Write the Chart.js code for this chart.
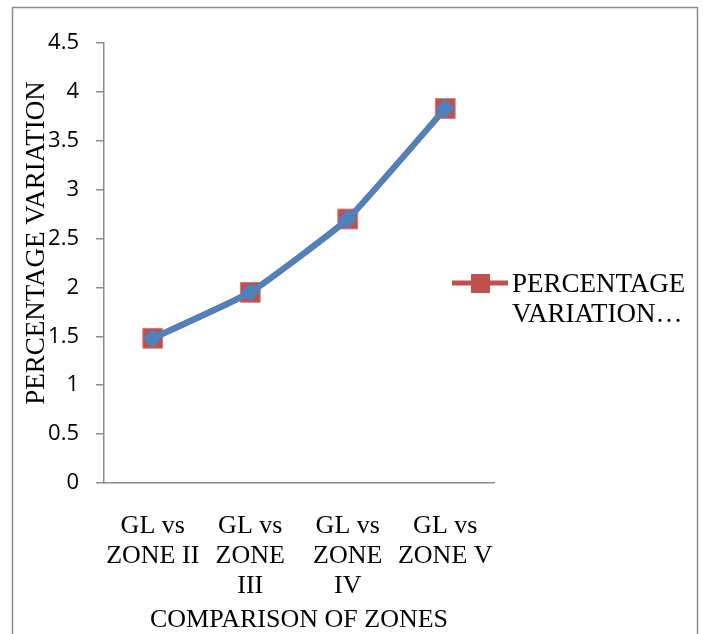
<!DOCTYPE html>
<html>
<head>
<meta charset="utf-8">
<script src="https://cdn.jsdelivr.net/npm/chart.js@4.4.0/dist/chart.umd.min.js"></script>
<style>
    html, body { margin: 0; padding: 0; background: #ffffff; }
    #wrap { width: 703px; height: 634px; }
</style>
</head>
<body>
<div id="wrap"><canvas id="myChart" width="703" height="634"></canvas></div>
<script>
// chart data
var zoneLabels = [
    ['GL vs', 'ZONE II'],
    ['GL vs', 'ZONE', 'III'],
    ['GL vs', 'ZONE', 'IV'],
    ['GL vs', 'ZONE V']
];
var variationRed = [1.48, 1.95, 2.70, 3.83];
var variationBlue = [1.48, 1.95, 2.70, 3.83];
var legendLines = ['PERCENTAGE', 'VARIATION\u2026'];
var yTitle = 'PERCENTAGE VARIATION';
var xTitle = 'COMPARISON OF ZONES';

var red = '#c0504d';
var blue = '#4f81bd';
var axisGray = '#8c8c8c';
var serif = "'Liberation Serif', 'Times New Roman', serif";

// outer frame, rotated y title and the legend on the right
var extrasPlugin = {
    id: 'extras',
    afterDraw: function (chart) {
        var c = chart.ctx;
        c.save();
        c.strokeStyle = axisGray;
        c.lineWidth = 1.5;
        c.strokeRect(12.5, 7.5, 685, 660);

        c.fillStyle = '#000';
        c.font = '27px ' + serif;
        c.textAlign = 'center';
        c.textBaseline = 'middle';
        c.translate(37, 243);
        c.rotate(-Math.PI / 2);
        c.fillText(yTitle, 0, 0);
        c.restore();

        c.save();
        c.strokeStyle = red;
        c.lineWidth = 5;
        c.beginPath();
        c.moveTo(452, 283);
        c.lineTo(508, 283);
        c.stroke();
        c.fillStyle = red;
        c.fillRect(471, 274, 19, 19);
        c.fillStyle = '#000';
        c.font = '27px ' + serif;
        c.textAlign = 'left';
        c.textBaseline = 'middle';
        for (var i = 0; i < legendLines.length; i++) {
            c.fillText(legendLines[i], 512, 285 + i * 30);
        }
        c.restore();
    }
};

window.onload = function () {
    var ctx = document.getElementById('myChart').getContext('2d');
    new Chart(ctx, {
        type: 'line',
        data: {
            labels: zoneLabels,
            datasets: [{
                label: 'PERCENTAGE VARIATION',
                data: variationRed,
                borderColor: red,
                backgroundColor: red,
                borderWidth: 6,
                tension: 0.12,
                pointStyle: 'rect',
                pointRadius: 14,
                pointHoverRadius: 14,
                pointBackgroundColor: red,
                pointBorderColor: '#d07a77',
                pointBorderWidth: 1,
                order: 1
            }, {
                label: 'PERCENTAGE VARIATION',
                data: variationBlue,
                borderColor: blue,
                backgroundColor: blue,
                borderWidth: 6,
                tension: 0.12,
                pointStyle: 'rectRot',
                pointRadius: 9,
                pointHoverRadius: 9,
                pointBackgroundColor: blue,
                pointBorderColor: blue,
                pointBorderWidth: 1,
                order: 0
            }]
        },
        options: {
            responsive: false,
            animation: false,
            layout: { padding: { left: 0, right: 209, top: 43, bottom: 0 } },
            plugins: {
                legend: { display: false },
                tooltip: { enabled: false }
            },
            scales: {
                x: {
                    offset: true,
                    afterFit: function (scale) { scale.height = 151; },
                    border: { color: axisGray, width: 1.5 },
                    grid: { display: false, offset: true },
                    ticks: {
                        color: '#000',
                        padding: 20,
                        maxRotation: 0,
                        autoSkip: false,
                        font: { family: serif, size: 26, lineHeight: 1.15 }
                    },
                    title: {
                        display: true,
                        text: xTitle,
                        color: '#000',
                        padding: { top: 0, bottom: 0 },
                        font: { family: serif, size: 26, lineHeight: 1.1 }
                    }
                },
                y: {
                    min: 0,
                    max: 4.5,
                    afterFit: function (scale) { scale.width = 104; },
                    border: { color: axisGray, width: 1.5 },
                    grid: {
                        drawOnChartArea: false,
                        drawTicks: true,
                        tickLength: 8,
                        color: axisGray,
                        lineWidth: 1.5
                    },
                    ticks: {
                        stepSize: 0.5,
                        color: '#000',
                        padding: 17,
                        font: { family: "'Open Sans', sans-serif", size: 22 },
                        callback: function (v) { return String(v); }
                    }
                }
            }
        },
        plugins: [extrasPlugin]
    });
};
</script>
</body>
</html>
